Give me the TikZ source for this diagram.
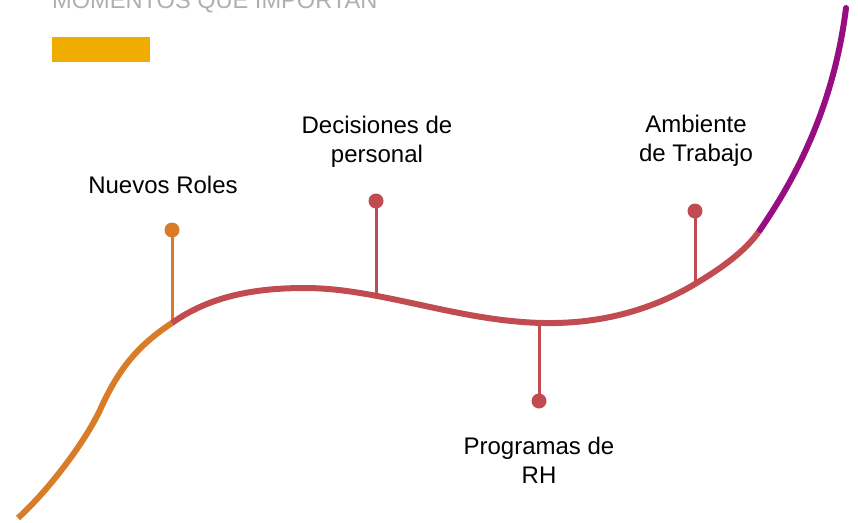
\documentclass[tikz,border=0pt]{standalone}
\usepackage{fontspec}
\setmainfont{Liberation Sans}
\definecolor{corange}{RGB}{217,124,40}
\definecolor{cred}{RGB}{192,76,82}
\definecolor{cpurple}{RGB}{150,14,130}
\definecolor{cyellow}{RGB}{240,172,0}
\definecolor{cgray}{RGB}{175,175,175}
\begin{document}
\begin{tikzpicture}[x=1pt,y=-1pt,
  curve/.style={line width=6pt},
  stem/.style={line width=3pt},
  dot/.style={circle,inner sep=0pt,minimum size=15pt},
  lbl/.style={align=center,font=\fontsize{24}{29}\selectfont,text=black}]
\useasboundingbox (0,0) rectangle (858,522);
\clip (0,0) rectangle (858,522);
\node[anchor=base west,inner sep=0pt,text=cgray,font=\fontsize{23.6}{28}\selectfont] (title) at (52,9) {MOMENTOS QUE IMPORTAN};
\fill[cyellow] (52,37) rectangle (150,62);
% curve points
\coordinate (s) at (18,518);
\coordinate (c1) at (172,323);
\coordinate (c2) at (376,293);
\coordinate (c3) at (539,323);
\coordinate (c4) at (695,284);
\coordinate (c5) at (760,230);
\coordinate (e) at (846,8);
% dots
\node[dot,fill=corange] (d1) at (172,230) {};
\node[dot,fill=cred] (d2) at (376,201) {};
\node[dot,fill=cred] (d3) at (539,401) {};
\node[dot,fill=cred] (d4) at (695,211) {};
% stems
\draw[stem,corange] (d1.center) -- (c1);
\draw[stem,cred] (d2.center) -- (c2);
\draw[stem,cred] (d3.center) -- (c3);
\draw[stem,cred] (d4.center) -- (c4);
% curve
\draw[curve,corange] (s) .. controls (48,491) and (85,442) .. (100,410)
  .. controls (118,370) and (137,346) .. (c1);
\draw[curve,cred] (c1) .. controls (210,296) and (255,288) .. (305,288)
  .. controls (380,288) and (460,322) .. (545,323)
  .. controls (610,324) and (660,305) .. (c4)
  .. controls (720,269) and (745,252) .. (c5);
\draw[curve,cpurple,line cap=round] (c5) .. controls (785,193) and (832,120) .. (e);
% labels
\node[lbl] (l1) at (163,185) {Nuevos Roles};
\node[lbl] (l2) at (377,142) {Decisiones de\\personal};
\node[lbl] (l3) at (539,460) {Programas de\\RH};
\node[lbl] (l4) at (696,141) {Ambiente\\de Trabajo};
\end{tikzpicture}
\end{document}
